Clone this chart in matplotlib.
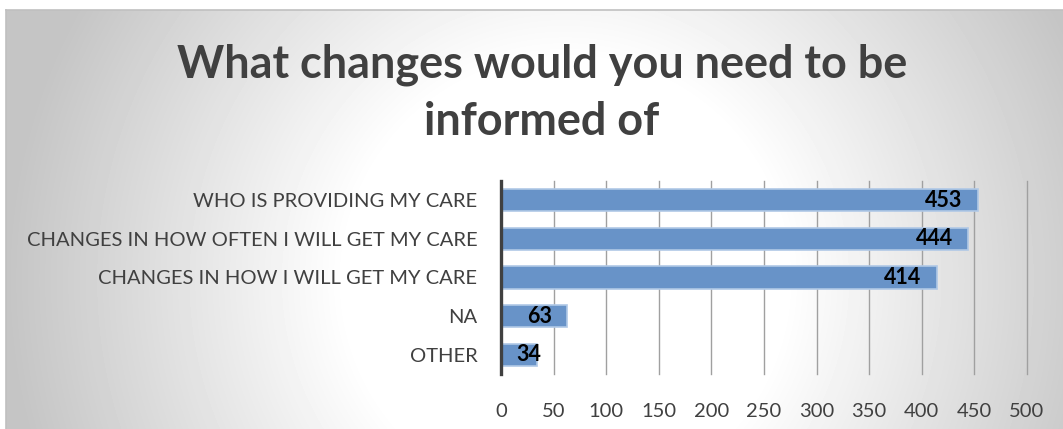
import matplotlib
matplotlib.use("Agg")
import matplotlib.pyplot as plt
import numpy as np

# survey answers, listed top to bottom
categories = ["WHO IS PROVIDING MY CARE",
              "CHANGES IN HOW OFTEN I WILL GET MY CARE",
              "CHANGES IN HOW I WILL GET MY CARE",
              "NA",
              "OTHER"]
counts = [453, 444, 414, 63, 34]
xticks = [0, 50, 100, 150, 200, 250, 300, 350, 400, 450, 500]

W, H = 1063, 429
fig = plt.figure(figsize=(W / 100, H / 100), dpi=100)
fig.patch.set_facecolor("white")

# radial grey background behind the chart area
x0, y0 = 6, 10
bg = fig.add_axes([x0 / W, 0, 1 - x0 / W, 1 - y0 / H])
xx, yy = np.meshgrid(np.arange(x0, W), np.arange(y0, H))
d = np.sqrt((xx - 565.0) ** 2 + (yy - 280.0) ** 2)
shade = 1 - 0.23 * np.clip((d - 220) / 340, 0, 1)
bg.imshow(shade, cmap="gray", vmin=0, vmax=1, aspect="auto",
          interpolation="bilinear")
bg.set_xticks([])
bg.set_yticks([])
for s in ["right", "bottom"]:
    bg.spines[s].set_visible(False)
for s in ["top", "left"]:
    bg.spines[s].set_color("#c0c0c0")
    bg.spines[s].set_linewidth(1.2)
bg.set_zorder(0)

ax = fig.add_axes([501 / W, 1 - 374 / H, (1027 - 501) / W, (374 - 181) / H])
ax.set_zorder(1)
ax.patch.set_alpha(0)

ypos = np.arange(len(categories))
ax.barh(ypos, counts, height=0.58, color="#6893c8",
        edgecolor="#b0c8e6", linewidth=1.2, zorder=3)

for y, v in zip(ypos, counts):
    if v < 50:
        ax.annotate(str(v), (0, y), xytext=(11, 0), textcoords="offset points",
                    ha="left", va="center", fontsize=15.5, fontweight="bold",
                    family="Lato", color="black", zorder=4)
    else:
        ax.annotate(str(v), (v, y), xytext=(-11, 0), textcoords="offset points",
                    ha="right", va="center", fontsize=15.5, fontweight="bold",
                    family="Lato", color="black", zorder=4)

ax.set_xlim(0, 500)
ax.set_ylim(len(categories) - 0.5, -0.5)
ax.set_xticks(xticks)
ax.set_yticks(ypos)
ax.set_yticklabels(categories)
ax.xaxis.grid(True, color="#a0a0a0", linewidth=1.0, zorder=0)
for gl in ax.get_xgridlines():
    gl.set_clip_on(False)
ax.tick_params(axis="both", length=0, labelsize=14.5, labelcolor="#404040")
ax.tick_params(axis="x", pad=21)
ax.tick_params(axis="y", pad=17)
for lab in ax.get_xticklabels() + ax.get_yticklabels():
    lab.set_family("Lato")

for s in ["top", "right", "bottom"]:
    ax.spines[s].set_visible(False)
ax.spines["left"].set_color("#404040")
ax.spines["left"].set_linewidth(2.4)
ax.spines["left"].set_zorder(5)

# two-line title
fig.text(542 / W, 1 - 78 / H, "What changes would you need to be",
         ha="center", va="baseline", fontsize=32.4, fontweight="bold",
         family="Lato", color="#404040")
fig.text(542 / W, 1 - 135 / H, "informed of",
         ha="center", va="baseline", fontsize=32.4, fontweight="bold",
         family="Lato", color="#404040")

fig.savefig("out.png", dpi=100)
